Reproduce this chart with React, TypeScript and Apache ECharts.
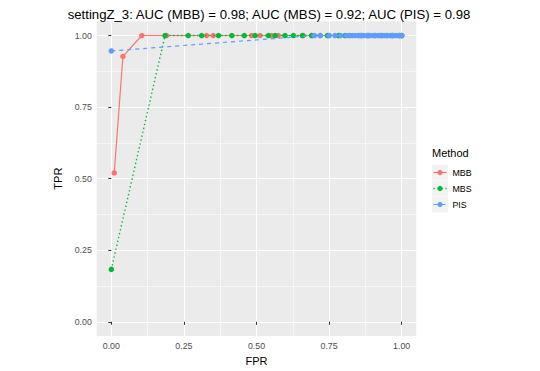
import React, { useEffect, useRef } from "react";
import * as echarts from "echarts";

const titleText = "settingZ_3: AUC (MBB) = 0.98; AUC (MBS) = 0.92; AUC (PIS) = 0.98";
const methods = ["MBB", "MBS", "PIS"];
const colors = ["#F8766D", "#00BA38", "#619CFF"];

const majorTicks = [0, 0.25, 0.5, 0.75, 1];
const minorTicks = [0.125, 0.375, 0.625, 0.875];
const tickLabels = ["0.00", "0.25", "0.50", "0.75", "1.00"];

const mbbFpr = [0.01, 0.04, 0.105, 0.19, 0.328, 0.351, 0.483, 0.512, 0.552, 0.575, 0.661, 0.69, 0.719, 0.75, 0.785, 0.82, 0.855, 0.885, 0.925, 0.966, 1.0];
const mbbTpr = [0.52, 0.927, 1, 1, 1, 1, 1, 1, 1, 1, 1, 1, 1, 1, 1, 1, 1, 1, 1, 1, 1];

const mbsFpr = [0, 0.185, 0.265, 0.311, 0.369, 0.415, 0.458, 0.495, 0.541, 0.564, 0.598, 0.627, 0.658, 0.69, 0.744, 0.782, 0.805, 0.862, 0.884, 0.908, 0.932, 0.948, 0.969, 0.992, 1.0];
const mbsTpr = [0.183, 1, 1, 1, 1, 1, 1, 1, 1, 1, 1, 1, 1, 1, 1, 1, 1, 1, 1, 1, 1, 1, 1, 1, 1];

const pisFpr = [0, 0.7, 0.72, 0.75, 0.77, 0.79, 0.81, 0.82, 0.83, 0.84, 0.85, 0.86, 0.87, 0.88, 0.89, 0.9, 0.91, 0.92, 0.93, 0.94, 0.95, 0.96, 0.97, 0.98, 0.99, 1.0];
const pisTpr = [0.946, 1, 1, 1, 1, 1, 1, 1, 1, 1, 1, 1, 1, 1, 1, 1, 1, 1, 1, 1, 1, 1, 1, 1, 1, 1];

const FONT = "'Liberation Sans', Arial, Helvetica, sans-serif";

function zip(xs: number[], ys: number[]) {
  return xs.map((x, i) => [x, ys[i]]);
}

export default function App() {
  const ref = useRef<HTMLDivElement>(null);
  useEffect(() => {
    const chart = echarts.init(ref.current!, null, { renderer: "svg" });
    const seriesData = [zip(mbbFpr, mbbTpr), zip(mbsFpr, mbsTpr), zip(pisFpr, pisTpr)];
    const lineTypes: any[] = ["solid", [1.4, 2.6], [4, 4]];
    const lineWidths = [1.2, 1.4, 1.2];

    const minorAxis = (extra: any) => ({
      type: "value",
      min: -0.05,
      max: 1.05,
      axisLine: { show: false },
      axisLabel: { show: false },
      axisTick: { show: false, customValues: minorTicks },
      splitLine: { show: true, lineStyle: { color: "#FFFFFF", width: 0.55 } },
      ...extra,
    });
    const majorAxis = (extra: any) => ({
      type: "value",
      min: -0.05,
      max: 1.05,
      axisLine: { show: false },
      axisTick: { show: true, length: 3, customValues: majorTicks, lineStyle: { color: "#333333", width: 1 } },
      axisLabel: {
        customValues: majorTicks,
        color: "#4D4D4D",
        fontSize: 8.8,
        fontFamily: FONT,
        margin: 5,
        formatter: (v: number) => tickLabels[majorTicks.indexOf(v)] ?? String(v),
      },
      splitLine: { show: true, lineStyle: { color: "#FFFFFF", width: 1.07 } },
      nameLocation: "middle",
      nameTextStyle: { color: "#000000", fontSize: 11, fontFamily: FONT },
      ...extra,
    });

    const legendX = 432;
    const rowY = [172.5, 188.5, 204.5];
    const legendEls: any[] = [
      {
        type: "text",
        left: legendX,
        top: 147,
        style: { text: "Method", fill: "#000000", fontSize: 11, fontFamily: FONT },
      },
    ];
    methods.forEach((m, i) => {
      legendEls.push({
        type: "rect",
        shape: { x: legendX, y: rowY[i] - 8, width: 16, height: 16 },
        style: { fill: "#F2F2F2" },
      });
      legendEls.push({
        type: "line",
        shape: { x1: legendX + 1.5, y1: rowY[i], x2: legendX + 14.5, y2: rowY[i] },
        style: { stroke: colors[i], lineWidth: lineWidths[i], lineDash: i === 0 ? null : lineTypes[i] },
      });
      legendEls.push({
        type: "circle",
        shape: { cx: legendX + 8, cy: rowY[i], r: 2.6 },
        style: { fill: colors[i] },
      });
      legendEls.push({
        type: "text",
        x: 452.5,
        y: rowY[i],
        style: { text: m, fill: "#000000", fontSize: 8.8, fontFamily: FONT, verticalAlign: "middle" },
      });
    });

    chart.setOption({
      animation: false,
      backgroundColor: "#FFFFFF",
      title: {
        text: titleText,
        left: 264,
        top: 3,
        textAlign: "center",
        textStyle: { color: "#000000", fontSize: 13.2, fontWeight: "normal", fontFamily: FONT },
      },
      grid: {
        left: 96.8,
        right: 123.8,
        top: 21.2,
        bottom: 31.2,
        show: true,
        backgroundColor: "#EBEBEB",
        borderWidth: 0,
      },
      xAxis: [
        minorAxis({ position: "bottom" }),
        majorAxis({ position: "bottom", name: "FPR", nameGap: 15 }),
      ],
      yAxis: [
        minorAxis({ position: "left" }),
        majorAxis({ position: "left", name: "TPR", nameGap: 21 }),
      ],
      series: methods.map((m, i) => ({
        name: m,
        type: "line",
        xAxisIndex: 1,
        yAxisIndex: 1,
        data: seriesData[i],
        symbol: "circle",
        symbolSize: 5.5,
        showSymbol: true,
        itemStyle: { color: colors[i] },
        lineStyle: { color: colors[i], width: lineWidths[i], type: lineTypes[i] },
        z: 2 + i,
      })),
      graphic: legendEls,
    });
    return () => chart.dispose();
  }, []);
  return <div ref={ref} style={{ position: "absolute", left: 0, top: 0, width: 540, height: 371 }} />;
}
